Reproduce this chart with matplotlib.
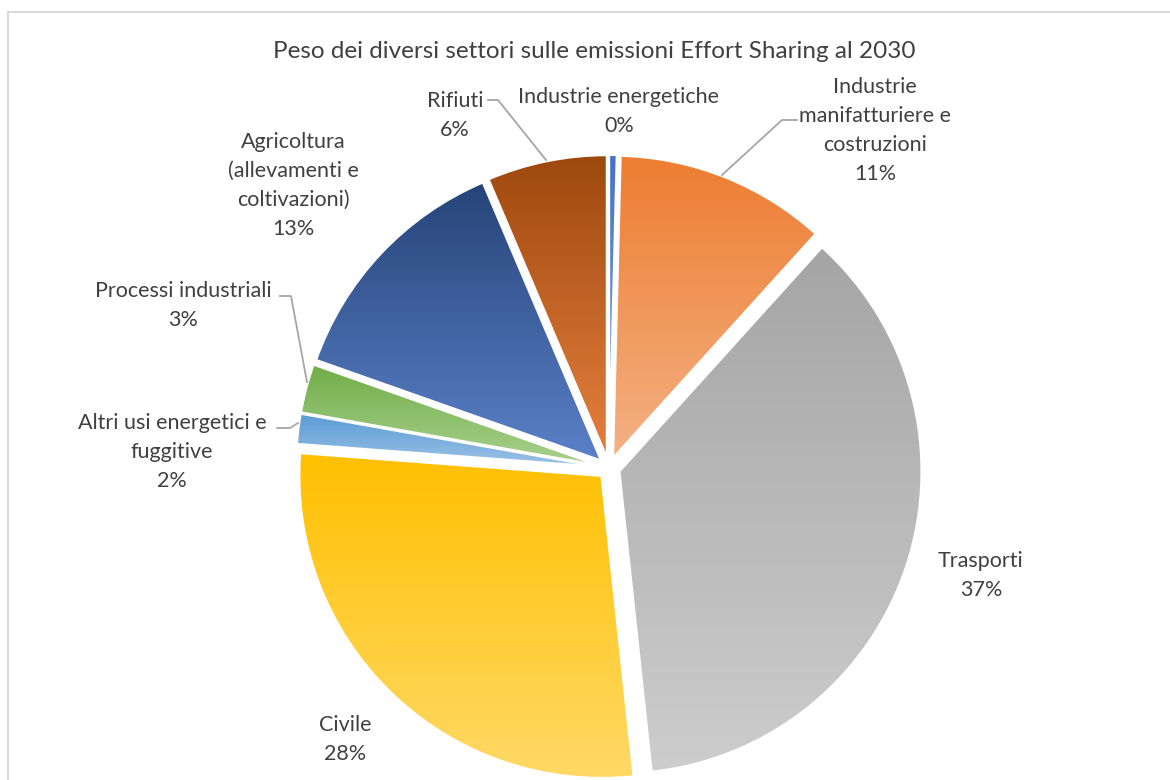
import numpy as np
import matplotlib
matplotlib.use("Agg")
import matplotlib.pyplot as plt
from matplotlib.colors import to_rgb
from matplotlib.lines import Line2D
from matplotlib.patches import Rectangle

# ---- data ----
categories = [
    "Industrie energetiche",
    "Industrie\nmanifatturiere e\ncostruzioni",
    "Trasporti",
    "Civile",
    "Altri usi energetici e\nfuggitive",
    "Processi industriali",
    "Agricoltura\n(allevamenti e\ncoltivazioni)",
    "Rifiuti",
]
values = [0.4, 11.3, 36.6, 27.9, 1.6, 2.6, 13.2, 6.4]
top_colors = ["#4472C4", "#ED7D31", "#A5A5A5", "#FFC000", "#5B9BD5", "#70AD47", "#264478", "#9E480E"]
bottom_colors = ["#8FAADC", "#F4B183", "#CDCDCD", "#FFD966", "#9DC3E6", "#A9D18E", "#5B80C8", "#E5803E"]
title = "Peso dei diversi settori sulle emissioni Effort Sharing al 2030"

# label layout (pixel coords, origin top-left): text centre x, first-line baseline y
label_pos = [(619, 103), (875, 92), (981, 567), (345, 731), (172, 428), (183, 297), (293, 147), (455, 107)]
line_step = 29.4
# leader lines (pixel coords) for some labels
leaders = {
    1: [(797, 120), (782, 120), (722, 175)],
    4: [(277, 428), (290, 428), (298, 423)],
    5: [(280, 296), (291, 296), (307, 382)],
    7: [(488, 100), (498, 100), (546, 160)],
}

W, H = 1170, 780
plt.rcParams["font.family"] = ["Lato", "DejaVu Sans"]
fig = plt.figure(figsize=(W / 100, H / 100), dpi=100)
ax = fig.add_axes([0, 0, 1, 1])

cx, cy, R = 609, H - 468, 302
gap = 11
wedges, _ = ax.pie(values, startangle=90, counterclock=False, center=(cx, cy), radius=R,
                   explode=[gap] * len(values), frame=True,
                   wedgeprops=dict(facecolor="none", edgecolor="white", linewidth=1.5))

for w, c1, c2 in zip(wedges, top_colors, bottom_colors):
    ext = w.get_path().get_extents()
    t = np.linspace(0, 1, 256)[:, None]
    a, b = np.array(to_rgb(c1)), np.array(to_rgb(c2))
    grad = (a[None, :] * (1 - t) + b[None, :] * t)[:, None, :].repeat(2, axis=1)
    im = ax.imshow(grad, extent=(ext.x0, ext.x1, ext.y0, ext.y1), origin="upper",
                   aspect="auto", zorder=0.5, interpolation="bilinear")
    im.set_clip_path(w)

ax.set_xlim(0, W)
ax.set_ylim(0, H)
ax.set_aspect("equal")
ax.axis("off")

# labels
tc = "#404040"
for i, (name, v) in enumerate(zip(categories, values)):
    x, y = label_pos[i]
    txt = f"{name}\n{v:.0f}%"
    last_baseline = y + (txt.count("\n")) * line_step
    ax.text(x, H - last_baseline, txt, ha="center", va="baseline",
            fontsize=15.5, color=tc, linespacing=1.57)

for i, pts in leaders.items():
    xs = [p[0] for p in pts]
    ys = [H - p[1] for p in pts]
    ax.add_line(Line2D(xs, ys, color="#A6A6A6", lw=1.3))

ax.text(594, H - 58, title, ha="center", va="baseline", fontsize=17.5, color=tc)

# chart border (top and left visible)
ax.add_patch(Rectangle((8, -20), W + 40, H - 12 + 20, fill=False, edgecolor="#D9D9D9", lw=1.5, clip_on=False))

fig.savefig("out.png", dpi=100, facecolor="white")
